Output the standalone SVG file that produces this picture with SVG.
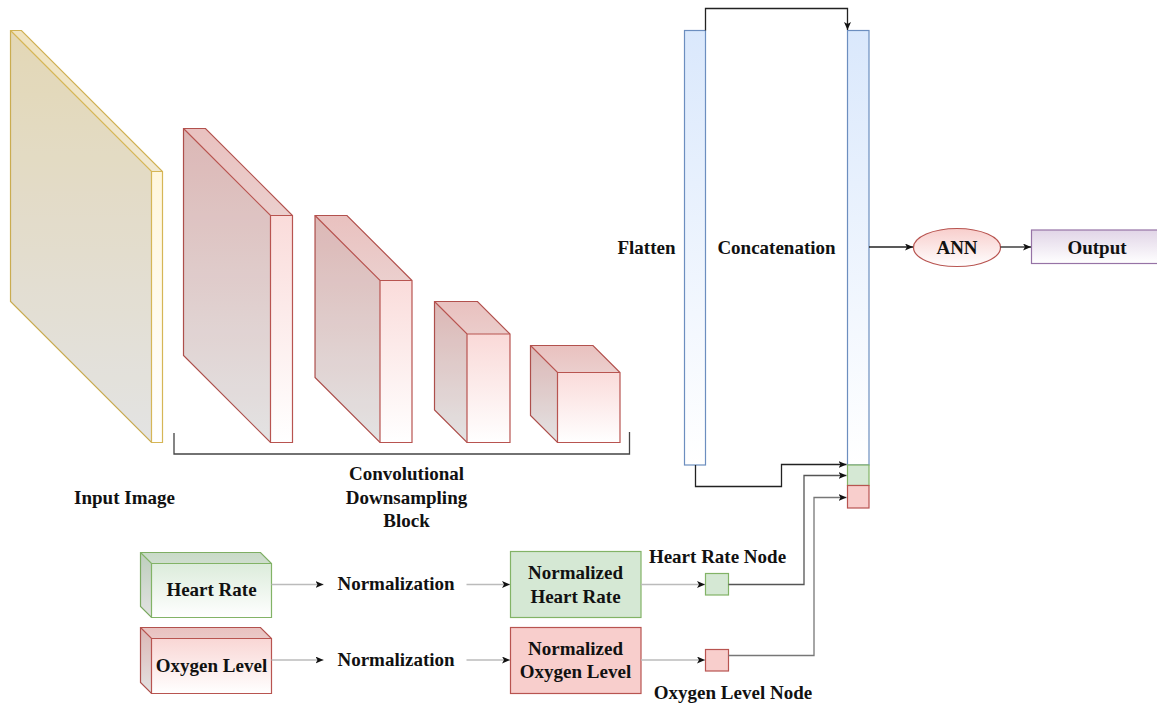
<svg xmlns="http://www.w3.org/2000/svg" width="1157" height="706" viewBox="0 0 1157 706">
  <style>
    text { font-family: "Liberation Serif", "Times New Roman", serif; font-weight: bold; font-size: 19px; fill: #111; text-anchor: middle; }
    .yl { stroke: #d6b656; stroke-width: 1.2; }
    .rd { stroke: #b85450; stroke-width: 1.2; }
    .gr { stroke: #82b366; stroke-width: 1.2; }
    .bl { stroke: #6c8ebf; stroke-width: 1.2; }
    .shade-side { fill: #000; fill-opacity: 0.11; stroke: none; }
    .shade-top { fill: #000; fill-opacity: 0.06; stroke: none; }
    .inner { fill: none; }
  </style>
  <defs>
    <linearGradient id="gYellow" x1="0" y1="0" x2="0" y2="1">
      <stop offset="0" stop-color="#fff2cc"/>
      <stop offset="1" stop-color="#ffffff"/>
    </linearGradient>
    <linearGradient id="gRed" x1="0" y1="0" x2="0" y2="1">
      <stop offset="0" stop-color="#f8cecc"/>
      <stop offset="1" stop-color="#ffffff"/>
    </linearGradient>
    <linearGradient id="gGreen" x1="0" y1="0" x2="0" y2="1">
      <stop offset="0" stop-color="#d5e8d4"/>
      <stop offset="1" stop-color="#ffffff"/>
    </linearGradient>
    <linearGradient id="gBlue" x1="0" y1="0" x2="0" y2="1">
      <stop offset="0" stop-color="#dae8fc"/>
      <stop offset="1" stop-color="#ffffff"/>
    </linearGradient>
    <linearGradient id="gPurple" x1="0" y1="0" x2="0" y2="1">
      <stop offset="0" stop-color="#e1d5e7"/>
      <stop offset="1" stop-color="#ffffff"/>
    </linearGradient>
    <marker id="arrow" viewBox="0 0 8 7" refX="8" refY="3.5" markerWidth="8" markerHeight="7" markerUnits="userSpaceOnUse" orient="auto">
      <path d="M0,0 L8,3.5 L0,7 L2,3.5 z" fill="#111"/>
    </marker>
  </defs>

  <!-- input image slab -->
  <g id="input-image">
    <polygon class="yl" fill="url(#gYellow)" points="10.5,30.5 21.5,30.5 162.5,171.5 162.5,442.5 151.5,442.5 10.5,301.5"/>
    <polygon class="shade-side" points="10.5,30.5 151.5,171.5 151.5,442.5 10.5,301.5"/>
    <polygon class="shade-top" points="10.5,30.5 21.5,30.5 162.5,171.5 151.5,171.5"/>
    <path class="yl inner" d="M10.5,30.5 L151.5,171.5 L162.5,171.5 M151.5,171.5 V442.5"/>
    <text x="124.5" y="504">Input Image</text>
  </g>

  <!-- convolutional downsampling blocks -->
  <g id="conv-1">
    <polygon class="rd" fill="url(#gRed)" points="183.5,128.5 205.5,128.5 292.5,215.5 292.5,442.5 270.5,442.5 183.5,355.5"/>
    <polygon class="shade-side" points="183.5,128.5 270.5,215.5 270.5,442.5 183.5,355.5"/>
    <polygon class="shade-top" points="183.5,128.5 205.5,128.5 292.5,215.5 270.5,215.5"/>
    <path class="rd inner" d="M183.5,128.5 L270.5,215.5 L292.5,215.5 M270.5,215.5 V442.5"/>
  </g>
  <g id="conv-2">
    <polygon class="rd" fill="url(#gRed)" points="315,215.5 347,215.5 412,280.5 412,442.5 380,442.5 315,377.5"/>
    <polygon class="shade-side" points="315,215.5 380,280.5 380,442.5 315,377.5"/>
    <polygon class="shade-top" points="315,215.5 347,215.5 412,280.5 380,280.5"/>
    <path class="rd inner" d="M315,215.5 L380,280.5 L412,280.5 M380,280.5 V442.5"/>
  </g>
  <g id="conv-3">
    <polygon class="rd" fill="url(#gRed)" points="434.5,301.5 477.5,301.5 510,334 510,442.5 467,442.5 434.5,410"/>
    <polygon class="shade-side" points="434.5,301.5 467,334 467,442.5 434.5,410"/>
    <polygon class="shade-top" points="434.5,301.5 477.5,301.5 510,334 467,334"/>
    <path class="rd inner" d="M434.5,301.5 L467,334 L510,334 M467,334 V442.5"/>
  </g>
  <g id="conv-4">
    <polygon class="rd" fill="url(#gRed)" points="530.5,345.5 593,345.5 620,372.5 620,442.5 557.5,442.5 530.5,415.5"/>
    <polygon class="shade-side" points="530.5,345.5 557.5,372.5 557.5,442.5 530.5,415.5"/>
    <polygon class="shade-top" points="530.5,345.5 593,345.5 620,372.5 557.5,372.5"/>
    <path class="rd inner" d="M530.5,345.5 L557.5,372.5 L620,372.5 M557.5,372.5 V442.5"/>
  </g>
  <g id="conv-label">
    <path d="M174,433 V454 H629.5 V432" fill="none" stroke="#444" stroke-width="1.3"/>
    <text x="406.5" y="480">Convolutional</text>
    <text x="406.5" y="503.5">Downsampling</text>
    <text x="406.5" y="527">Block</text>
  </g>

  <!-- flatten and concatenation columns -->
  <g id="flatten">
    <rect class="bl" x="684.5" y="30.5" width="21" height="434.5" fill="url(#gBlue)"/>
    <text x="646.5" y="254">Flatten</text>
  </g>
  <g id="concatenation">
    <rect class="bl" x="847.5" y="30.5" width="21.5" height="434.5" fill="url(#gBlue)"/>
    <rect class="gr" x="847.5" y="465" width="21.5" height="20.5" fill="#d5e8d4"/>
    <rect class="rd" x="847.5" y="485.5" width="21.5" height="22.5" fill="#f8cecc"/>
    <text x="776.5" y="254">Concatenation</text>
  </g>

  <g id="ann">
    <ellipse class="rd" cx="957" cy="247.5" rx="43.5" ry="19" fill="url(#gRed)"/>
    <text x="957" y="253.5">ANN</text>
  </g>
  <g id="output">
    <rect x="1031.5" y="230" width="130" height="33.5" fill="url(#gPurple)" stroke="#9673a6" stroke-width="1.2"/>
    <text x="1097" y="253.5">Output</text>
  </g>

  <!-- sensor inputs -->
  <g id="heart-rate">
    <polygon class="gr" fill="url(#gGreen)" points="140.5,552.5 260.5,552.5 271.5,563.5 271.5,617.5 151.5,617.5 140.5,606.5"/>
    <polygon class="shade-side" points="140.5,552.5 151.5,563.5 151.5,617.5 140.5,606.5"/>
    <polygon class="shade-top" points="140.5,552.5 260.5,552.5 271.5,563.5 151.5,563.5"/>
    <path class="gr inner" d="M140.5,552.5 L151.5,563.5 L271.5,563.5 M151.5,563.5 V617.5"/>
    <text x="211.5" y="595.5">Heart Rate</text>
  </g>
  <g id="oxygen-level">
    <polygon class="rd" fill="url(#gRed)" points="140.5,627.5 260.5,627.5 271.5,638.5 271.5,693.5 151.5,693.5 140.5,682.5"/>
    <polygon class="shade-side" points="140.5,627.5 151.5,638.5 151.5,693.5 140.5,682.5"/>
    <polygon class="shade-top" points="140.5,627.5 260.5,627.5 271.5,638.5 151.5,638.5"/>
    <path class="rd inner" d="M140.5,627.5 L151.5,638.5 L271.5,638.5 M151.5,638.5 V693.5"/>
    <text x="211.5" y="671.5">Oxygen Level</text>
  </g>

  <g id="normalization-hr">
    <text x="396" y="590">Normalization</text>
  </g>
  <g id="normalization-ox">
    <text x="396" y="666">Normalization</text>
  </g>

  <g id="normalized-hr">
    <rect class="gr" x="510.5" y="551.5" width="130.5" height="66" fill="#d5e8d4"/>
    <text x="575.5" y="579">Normalized</text>
    <text x="575.5" y="602.5">Heart Rate</text>
  </g>
  <g id="normalized-ox">
    <rect class="rd" x="510.5" y="627.5" width="130.5" height="66" fill="#f8cecc"/>
    <text x="575.5" y="655">Normalized</text>
    <text x="575.5" y="678">Oxygen Level</text>
  </g>

  <g id="hr-node">
    <rect class="gr" x="705.5" y="573.5" width="23" height="21.5" fill="#d5e8d4"/>
    <text x="717.5" y="563">Heart Rate Node</text>
  </g>
  <g id="ox-node">
    <rect class="rd" x="705.5" y="649.5" width="23" height="21.5" fill="#f8cecc"/>
    <text x="733" y="699">Oxygen Level Node</text>
  </g>

  <!-- connectors -->
  <g id="connectors" fill="none" stroke-width="1.3">
    <path d="M705.5,30.5 V8.5 H847.5 V30" stroke="#222" marker-end="url(#arrow)"/>
    <path d="M695.5,465 V486.5 H781.5 V464.5 H846.5" stroke="#222" marker-end="url(#arrow)"/>
    <path d="M728.5,584.5 H804 V475.5 H846.5" stroke="#555" marker-end="url(#arrow)"/>
    <path d="M728.5,655.5 H814 V497.5 H846.5" stroke="#777" marker-end="url(#arrow)"/>
    <path d="M869,247 H913" stroke="#222" marker-end="url(#arrow)"/>
    <path d="M1000.5,247 H1031" stroke="#222" marker-end="url(#arrow)"/>
    <path d="M271.5,584.5 H323.5" stroke="#bbb" marker-end="url(#arrow)"/>
    <path d="M466.5,584.5 H510" stroke="#bbb" marker-end="url(#arrow)"/>
    <path d="M271.5,660 H323.5" stroke="#bbb" marker-end="url(#arrow)"/>
    <path d="M466.5,660 H510" stroke="#bbb" marker-end="url(#arrow)"/>
    <path d="M641,584.5 H705" stroke="#bbb" marker-end="url(#arrow)"/>
    <path d="M641,660 H705" stroke="#bbb" marker-end="url(#arrow)"/>
  </g>
</svg>
